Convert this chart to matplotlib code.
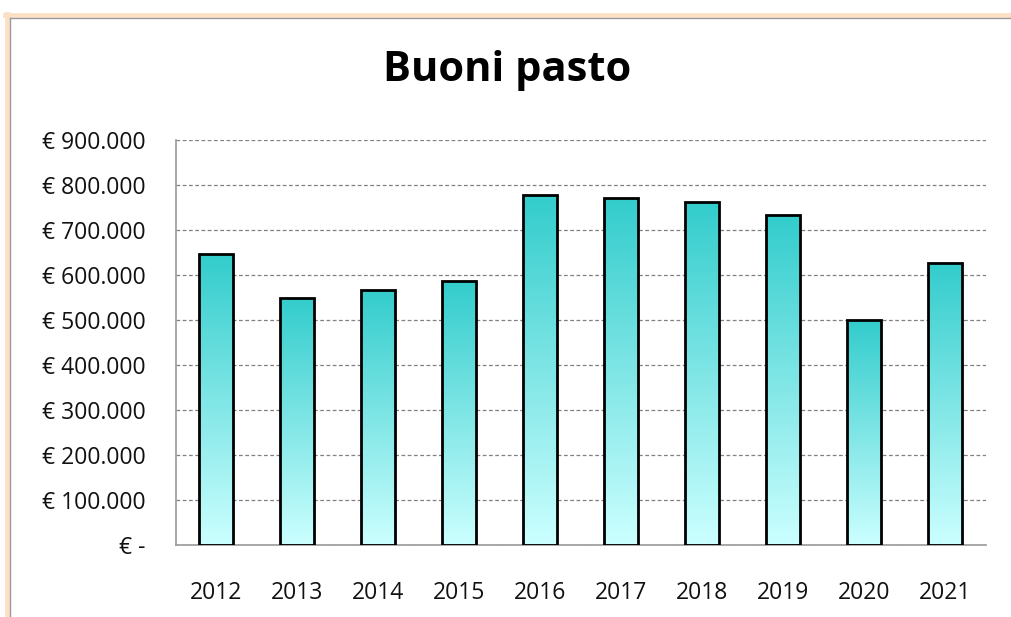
import numpy as np
import matplotlib
matplotlib.use("Agg")
import matplotlib.pyplot as plt
from matplotlib.colors import LinearSegmentedColormap
from matplotlib.lines import Line2D

anni = ["2012", "2013", "2014", "2015", "2016", "2017", "2018", "2019", "2020", "2021"]
importi = [647000, 549000, 567000, 587000, 778000, 771000, 762000, 733000, 500000, 627000]
yticks = [0, 100000, 200000, 300000, 400000, 500000, 600000, 700000, 800000, 900000]
ylabels = ["€ -", "€ 100.000", "€ 200.000", "€ 300.000", "€ 400.000", "€ 500.000",
           "€ 600.000", "€ 700.000", "€ 800.000", "€ 900.000"]

plt.rcParams['font.family'] = ['Open Sans', 'DejaVu Sans']

fig = plt.figure(figsize=(10.11, 6.17), dpi=100)
ax = fig.add_axes([0.174, 0.117, 0.801, 0.656])

x = np.arange(len(anni))
bars = ax.bar(x, importi, width=0.42, facecolor='none', edgecolor='black', linewidth=2, zorder=3)

# gradiente verticale dentro ogni barra
cmap = LinearSegmentedColormap.from_list("grad", ["#ccffff", "#33cccc"])
grad = np.linspace(0, 1, 256).reshape(-1, 1)
for b in bars:
    x0, w, h = b.get_x(), b.get_width(), b.get_height()
    im = ax.imshow(grad, cmap=cmap, origin='lower', aspect='auto',
                   extent=[x0, x0 + w, 0, h], zorder=2)
    im.set_clip_path(b)

ax.set_xlim(-0.5, len(anni) - 0.5)
ax.set_ylim(0, 900000)
ax.set_yticks(yticks)
ax.set_yticklabels(ylabels)
ax.set_xticks(x)
ax.set_xticklabels(anni)
ax.tick_params(axis='both', length=0, labelsize=16.5, colors='#111111')
ax.tick_params(axis='x', pad=26)
ax.tick_params(axis='y', pad=22)

ax.yaxis.grid(True, linestyle=(0, (3, 2)), color='#808080', linewidth=0.9, zorder=1)
ax.set_axisbelow(True)
for s in ['top', 'right']:
    ax.spines[s].set_visible(False)
for s in ['left', 'bottom']:
    ax.spines[s].set_color('#999999')
    ax.spines[s].set_linewidth(1.2)

fig.text(0.502, 0.885, "Buoni pasto", ha='center', va='center', fontsize=30, fontweight='bold')

# cornice
fig.add_artist(Line2D([0.005, 1], [0.975, 0.975], color='#fbe0c6', linewidth=3.5))
fig.add_artist(Line2D([0.0065, 0.0065], [0, 0.978], color='#fbe0c6', linewidth=3.5))
fig.add_artist(Line2D([0.0095, 1], [0.971, 0.971], color='#999999', linewidth=1))
fig.add_artist(Line2D([0.0095, 0.0095], [0, 0.971], color='#999999', linewidth=1))

fig.savefig("out.png", dpi=100)
